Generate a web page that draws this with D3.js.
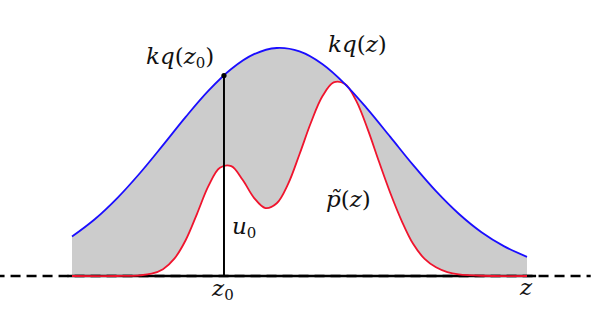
<!DOCTYPE html>
<meta charset="utf-8">
<style>
    body { margin: 0; background: #fff; }
    .lbl { font-family: "DejaVu Serif", serif; font-size: 23px; fill: #111; }
    .lbl .it { font-style: italic; }
    .lbl .sub { font-size: 15px; font-style: normal; }
</style>
<body>
<script src="https://d3js.org/d3.v7.min.js"></script>
<script>
    // envelope kq(z)
    var kqZ = [0, 0.5, 1, 1.5, 2, 2.5, 3, 3.5, 4, 4.5, 5, 5.5, 6, 6.5, 7, 7.5, 8, 8.5, 9, 9.5, 10];
    var kqV = [0.173, 0.249, 0.343, 0.453, 0.574, 0.698, 0.813, 0.908, 0.973, 1.0, 0.985, 0.930, 0.842, 0.731, 0.609, 0.486, 0.372, 0.273, 0.192, 0.130, 0.084];
    // target p~(z)
    var pZ = [0, 1, 1.5, 1.75, 2, 2.25, 2.5, 2.75, 3, 3.25, 3.5, 3.75, 4, 4.25, 4.5, 4.75, 5, 5.25, 5.5, 5.75, 6, 6.25, 6.5, 6.75, 7, 7.25, 7.5, 7.75, 8, 8.25, 8.5, 9, 10];
    var pV = [0, 0, 0.003, 0.010, 0.030, 0.076, 0.158, 0.274, 0.395, 0.475, 0.482, 0.422, 0.343, 0.298, 0.319, 0.404, 0.534, 0.672, 0.787, 0.849, 0.842, 0.767, 0.643, 0.500, 0.362, 0.240, 0.140, 0.075, 0.038, 0.017, 0.007, 0.001, 0];
    var z0 = 3.34, kqZ0 = 0.879;
    var axisExtent = [-11.9, 11.4];

    var width = 601, height = 309;
    var x = d3.scaleLinear().domain([0, 10]).range([72, 527]);
    var y = d3.scaleLinear().domain([0, 1]).range([276, 48]);

    var svg = d3.select("body").append("svg")
        .attr("width", width)
        .attr("height", height);

    var kq = kqZ.map(function(z, i) { return {z: z, v: kqV[i]}; });
    var pt = pZ.map(function(z, i) { return {z: z, v: pV[i]}; });

    var line = d3.line()
        .x(function(d) { return x(d.z); })
        .y(function(d) { return y(d.v); })
        .curve(d3.curveCatmullRom.alpha(0.5));

    // shaded region between the two curves
    var upper = line(kq);
    var lowerRev = line(pt.slice().reverse());
    svg.append("path")
        .attr("d", upper + "L" + lowerRev.slice(1) + "Z")
        .attr("fill", "#cccccc")
        .attr("stroke", "none");

    // dashed axis and solid part
    svg.append("line")
        .attr("x1", x(axisExtent[0])).attr("x2", x(axisExtent[1]))
        .attr("y1", y(0)).attr("y2", y(0))
        .attr("stroke", "#000").attr("stroke-width", 2.6)
        .attr("stroke-dasharray", "10,6");
    svg.append("line")
        .attr("x1", x(-0.1)).attr("x2", x(10.2))
        .attr("y1", y(0)).attr("y2", y(0))
        .attr("stroke", "#000").attr("stroke-width", 2.6);

    svg.append("path")
        .attr("d", line(pt))
        .attr("fill", "none")
        .attr("stroke", "#f0142d")
        .attr("stroke-width", 1.8);

    svg.append("path")
        .attr("d", line(kq))
        .attr("fill", "none")
        .attr("stroke", "#1a0dff")
        .attr("stroke-width", 1.8);

    // sample line at z0
    svg.append("line")
        .attr("x1", x(z0)).attr("x2", x(z0))
        .attr("y1", y(0)).attr("y2", y(kqZ0))
        .attr("stroke", "#000").attr("stroke-width", 2);
    svg.append("circle")
        .attr("cx", x(z0)).attr("cy", y(kqZ0))
        .attr("r", 2.6).attr("fill", "#000");

    // labels
    function label(px, py, parts) {
        var t = svg.append("text").attr("class", "lbl").attr("x", px).attr("y", py);
        parts.forEach(function(p) {
            var s = t.append("tspan").text(p.t);
            if (p.it) s.attr("class", "it");
            if (p.sub) s.attr("class", "sub").attr("dy", 4);
            if (p.up) s.attr("dy", -4);
        });
        return t;
    }
    label(146, 64, [{t: "kq", it: true}, {t: "("}, {t: "z", it: true}, {t: "0", sub: true}, {t: ")", up: true}]);
    label(328, 52, [{t: "kq", it: true}, {t: "("}, {t: "z", it: true}, {t: ")"}]);
    label(326, 207, [{t: "p\u0303", it: true}, {t: "("}, {t: "z", it: true}, {t: ")"}]);
    label(232, 234, [{t: "u", it: true}, {t: "0", sub: true}]);
    label(212, 296, [{t: "z", it: true}, {t: "0", sub: true}]);
    label(520, 295, [{t: "z", it: true}]);
</script>
</body>
